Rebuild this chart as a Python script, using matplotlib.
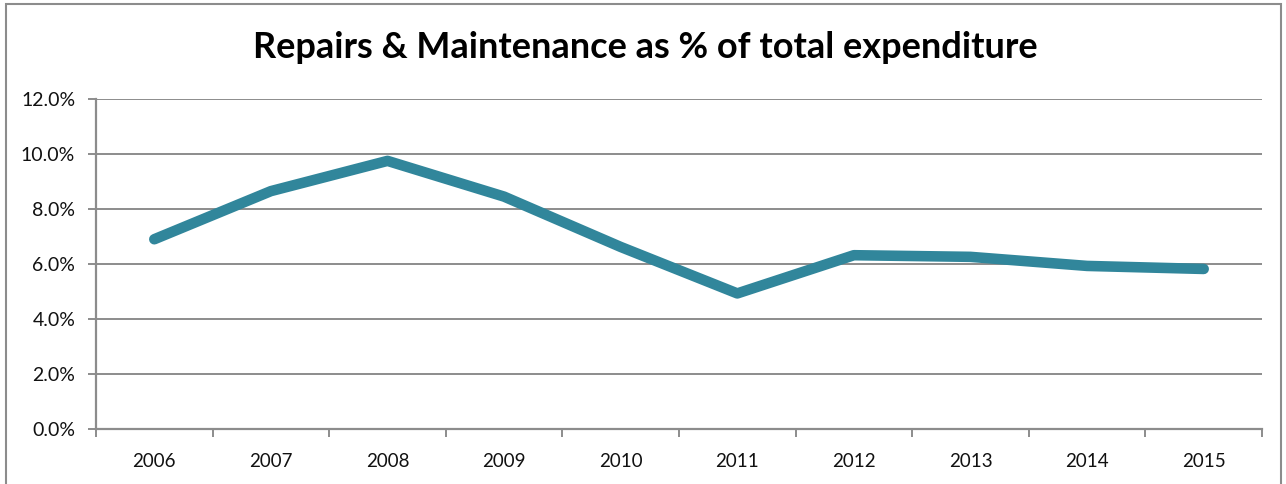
import matplotlib
matplotlib.use("Agg")
import matplotlib.pyplot as plt
from matplotlib.patches import Rectangle
from matplotlib.ticker import FuncFormatter, FixedLocator

years = ["2006", "2007", "2008", "2009", "2010", "2011", "2012", "2013", "2014", "2015"]
share = [6.90, 8.65, 9.75, 8.45, 6.62, 4.93, 6.32, 6.26, 5.93, 5.82]  # percent

W, H = 1286, 484
fig = plt.figure(figsize=(W / 100, H / 100), dpi=100)
plt.rcParams['font.family'] = ['Lato', 'DejaVu Sans']

ax = fig.add_axes([96 / W, 1 - 429 / H, (1262 - 96) / W, (429 - 99) / H])

grid_c = "#8c8c8c"
xs = list(range(len(years)))
ax.plot(xs, share, color="#31869b", lw=7.6, solid_capstyle="round", solid_joinstyle="round", zorder=3)

ax.set_xlim(-0.5, len(years) - 0.5)
ax.set_ylim(0, 12)
ax.yaxis.set_major_locator(FixedLocator([0, 2, 4, 6, 8, 10, 12]))
ax.yaxis.set_major_formatter(FuncFormatter(lambda v, p: f"{v:.1f}%"))
ax.grid(axis="y", color=grid_c, lw=1.4, zorder=1)
ax.set_axisbelow(True)

ax.xaxis.set_major_locator(FixedLocator([i - 0.5 for i in range(len(years) + 1)]))
ax.xaxis.set_minor_locator(FixedLocator(xs))
ax.set_xticklabels([])
ax.set_xticklabels(years, minor=True)
ax.tick_params(axis="x", which="major", length=6, width=1.4, color=grid_c, direction="out")
ax.tick_params(axis="x", which="minor", length=0, pad=17, labelsize=13.5, labelcolor="#111111")
ax.tick_params(axis="y", length=6, width=1.4, color=grid_c, pad=9, labelsize=14, labelcolor="#111111")

for s in ["top", "right"]:
    ax.spines[s].set_visible(False)
for s in ["left", "bottom"]:
    ax.spines[s].set_color(grid_c)
    ax.spines[s].set_linewidth(1.6)

fig.text(645 / W, 1 - 48 / H, "Repairs & Maintenance as % of total expenditure",
         ha="center", va="center", fontsize=26, fontweight="bold", color="black")

fig.patches.append(Rectangle((6 / W, -0.1), (1281 - 6) / W, 1.1 - 4 / H,
                             transform=fig.transFigure, fill=False,
                             edgecolor="#8c8c8c", lw=1.5))

fig.savefig("out.png", dpi=100)
